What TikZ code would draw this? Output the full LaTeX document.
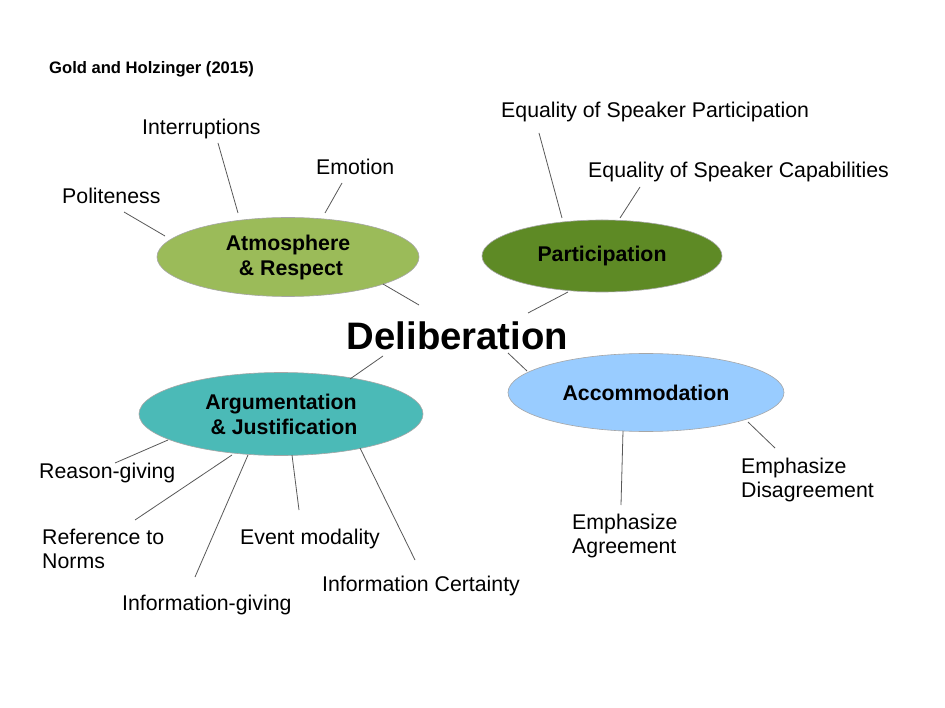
\documentclass[tikz,border=0pt]{standalone}
\usepackage{fontspec}
\setmainfont{Liberation Sans}
\usetikzlibrary{shapes.geometric}
\definecolor{atmc}{HTML}{9BBB59}
\definecolor{parc}{HTML}{5E8A25}
\definecolor{argc}{HTML}{4BBAB7}
\definecolor{accc}{HTML}{99CCFF}
\begin{document}
\begin{tikzpicture}[x=1pt,y=-1pt,
  cat/.style={ellipse, draw=black!35, line width=0.6pt, inner sep=0pt, align=center,
    font=\fontsize{21.3}{25}\selectfont\bfseries},
  lbl/.style={anchor=base west, inner sep=0pt, font=\fontsize{21.3}{24}\selectfont},
  lbltwo/.style={anchor=north west, inner sep=0pt, align=left, font=\fontsize{21.3}{24}\selectfont},
  link/.style={draw=black!65, line width=0.8pt}]
\useasboundingbox (0,0) rectangle (945,708);
\fill[white] (0,0) rectangle (945,708);

% title
\node[anchor=base west, inner sep=0pt, font=\fontsize{16.6}{19}\selectfont\bfseries] (title) at (49,74) {Gold and Holzinger (2015)};

% central
\node[inner sep=0pt, font=\fontsize{38.3}{44}\selectfont\bfseries] (del) at (457.5,336) {Deliberation};

% categories
\node[cat, fill=atmc, minimum width=262pt, minimum height=79pt] (atm) at (288,257) {Atmosphere\\\ \& Respect};
\node[cat, fill=parc, minimum width=240pt, minimum height=72pt] (par) at (602,256) {Participation};
\node[cat, fill=argc, minimum width=284pt, minimum height=83pt] (arg) at (281,414) {Argumentation\\\ \& Justification};
\node[cat, fill=accc, minimum width=276pt, minimum height=78pt] (acc) at (646,392.5) {Accommodation};

% labels
\node[lbl] (interr) at (142,135) {Interruptions};
\node[lbl] (emot) at (316,175) {Emotion};
\node[lbl] (polit) at (62,204) {Politeness};
\node[lbl] (eqp) at (501,118) {Equality of Speaker Participation};
\node[lbl] (eqc) at (588,178) {Equality of Speaker Capabilities};
\node[lbl] (reason) at (39,478) {Reason-giving};
\node[lbltwo] (refn) at (42,528.5) {Reference to\\Norms};
\node[lbl] (event) at (240,544) {Event modality};
\node[lbl] (icert) at (322,591) {Information Certainty};
\node[lbl] (igive) at (122,610) {Information-giving};
\node[lbltwo] (agree) at (572,513.5) {Emphasize\\Agreement};
\node[lbltwo] (disagree) at (741,457.5) {Emphasize\\Disagreement};

% connector end points
\coordinate (c-pol1) at (124,212); \coordinate (c-pol2) at (165,236);
\coordinate (c-int1) at (218,143); \coordinate (c-int2) at (238,213);
\coordinate (c-emo1) at (342,183); \coordinate (c-emo2) at (325,213);
\coordinate (c-ad1) at (383,284); \coordinate (c-ad2) at (419,305);
\coordinate (c-eqp1) at (539,133); \coordinate (c-eqp2) at (562,218);
\coordinate (c-eqc1) at (640,187); \coordinate (c-eqc2) at (620,218);
\coordinate (c-pd1) at (568,292); \coordinate (c-pd2) at (528,313);
\coordinate (c-cd1) at (527,371); \coordinate (c-cd2) at (508,353);
\coordinate (c-dis1) at (748,422); \coordinate (c-dis2) at (775,448);
\coordinate (c-agr1) at (623,431); \coordinate (c-agr2) at (621,505);
\coordinate (c-gd1) at (350,379); \coordinate (c-gd2) at (383,356);
\coordinate (c-rea1) at (168,440); \coordinate (c-rea2) at (115,463);
\coordinate (c-ref1) at (232,455); \coordinate (c-ref2) at (135,520);
\coordinate (c-ig1) at (248,455); \coordinate (c-ig2) at (195,577);
\coordinate (c-ev1) at (292,455); \coordinate (c-ev2) at (299,510);
\coordinate (c-ic1) at (360,448); \coordinate (c-ic2) at (415,560);

% connectors
\foreach \n in {pol,int,emo,ad,eqp,eqc,pd,cd,dis,agr,gd,rea,ref,ig,ev,ic}
  \draw[link] (c-\n1) -- (c-\n2);
\end{tikzpicture}
\end{document}
